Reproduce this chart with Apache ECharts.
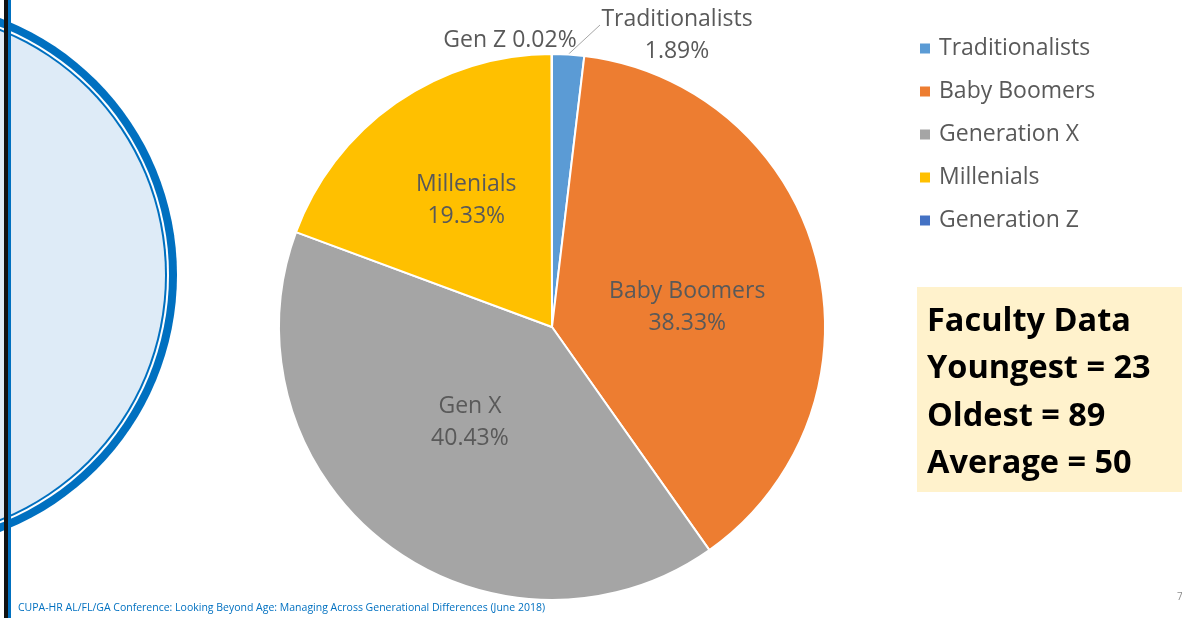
<!DOCTYPE html>
<html>
<head>
<meta charset="utf-8">
<script src="https://cdn.jsdelivr.net/npm/echarts@6/dist/echarts.min.js"></script>
<style>
  html, body { margin: 0; padding: 0; background: #ffffff; }
  #chart { width: 1182px; height: 618px; }
</style>
</head>
<body>
<div id="chart"></div>
<script>
// Generation mix of faculty (percent of headcount)
var categories = ['Traditionalists', 'Baby Boomers', 'Generation X', 'Millenials', 'Generation Z'];
var shortNames = ['Traditionalists', 'Baby Boomers', 'Gen X', 'Millenials', 'Gen Z'];
var shares = [1.89, 38.33, 40.43, 19.33, 0.02];
var colors = ['#5B9BD5', '#ED7D31', '#A5A5A5', '#FFC000', '#4472C4'];

// Side panel facts
var factLines = ['Faculty Data', 'Youngest = 23', 'Oldest = 89', 'Average = 50'];
var footerText = 'CUPA-HR AL/FL/GA Conference: Looking Beyond Age: Managing Across Generational Differences (June 2018)';
var pageNumber = '7';

// Pie geometry
var CX = 552, CY = 327, R = 273;
var FONT = '"Open Sans", "Noto Sans", sans-serif';
var TEXT = '#595959';

// Decorative arc on the left edge
var ARC_X = -98, ARC_Y = 275, ARC_R = 275;

var chart = echarts.init(document.getElementById('chart'), null, { renderer: 'canvas' });

var pieData = categories.map(function (name, i) {
  var item = { name: name, value: shares[i], itemStyle: { color: colors[i] } };
  if (i === 0 || i === 4) {
    item.label = { position: 'outside' };
    item.labelLine = { show: i === 0 };
  }
  return item;
});

// Fine placement of the data labels, relative to the pie
function placeLabel(p) {
  var i = p.dataIndex;
  if (i === 0) {
    return {
      x: CX + 125, y: CY - R - 19, align: 'center', verticalAlign: 'middle',
      labelLinePoints: [p.labelLinePoints ? p.labelLinePoints[0] : [CX + 15, CY - R + 2], [CX + 48, CY - R - 29]]
    };
  }
  if (i === 4) {
    return { x: CX - 42, y: CY - R - 14, align: 'center', verticalAlign: 'middle' };
  }
  if (i === 1) return { dy: 15 };
  if (i === 2) return { dx: 3, dy: -15 };
  if (i === 3) return { dx: -6, dy: -12 };
  return {};
}

var option = {
  backgroundColor: '#ffffff',
  animation: false,
  legend: {
    orient: 'vertical',
    left: 918,
    top: 37,
    padding: 0,
    icon: 'rect',
    itemWidth: 12,
    itemHeight: 12,
    itemGap: 20,
    data: categories,
    textStyle: { fontFamily: FONT, fontSize: 23, color: TEXT, lineHeight: 23, padding: [0, 0, 0, 3] }
  },
  graphic: [
    // Decorative slide frame on the left
    { type: 'circle', z: 1, shape: { cx: ARC_X, cy: ARC_Y, r: ARC_R }, style: { fill: '#0070C0' } },
    { type: 'circle', z: 2, shape: { cx: ARC_X, cy: ARC_Y, r: ARC_R - 8 }, style: { fill: '#ffffff' } },
    { type: 'circle', z: 3, shape: { cx: ARC_X, cy: ARC_Y, r: ARC_R - 10 }, style: { fill: '#0070C0' } },
    { type: 'circle', z: 4, shape: { cx: ARC_X, cy: ARC_Y, r: ARC_R - 12 }, style: { fill: '#DEEBF7' } },
    { type: 'rect', z: 5, shape: { x: 4, y: 0, width: 4, height: 618 }, style: { fill: '#111111' } },
    { type: 'rect', z: 5, shape: { x: 8, y: 0, width: 3, height: 618 }, style: { fill: '#0070C0' } },
    // Faculty facts box
    { type: 'rect', z: 5, shape: { x: 917, y: 287, width: 265, height: 205 }, style: { fill: '#FFF2CC' } },
    {
      type: 'text', z: 6, x: 927, y: 298,
      style: { text: factLines.join('\n'), fill: '#000000', font: 'bold 32.5px "Open Sans", sans-serif', lineHeight: 47.3 }
    },
    // Footer and page number
    {
      type: 'text', z: 6, x: 18, y: 608,
      style: { text: footerText, fill: '#0070C0', font: '10.5px "Open Sans", sans-serif', verticalAlign: 'middle' }
    },
    {
      type: 'text', z: 6, x: 1177, y: 597,
      style: { text: pageNumber, fill: '#8C8C8C', font: '10px "Open Sans", sans-serif', verticalAlign: 'middle' }
    }
  ],
  series: [{
    type: 'pie',
    center: [CX, CY],
    radius: [0, R],
    startAngle: 90,
    clockwise: true,
    avoidLabelOverlap: false,
    minAngle: 0,
    itemStyle: { borderColor: '#ffffff', borderWidth: 2 },
    label: {
      show: true,
      position: 'inside',
      color: TEXT,
      fontFamily: FONT,
      fontSize: 23,
      lineHeight: 32,
      formatter: function (p) {
        var v = shares[p.dataIndex].toFixed(2) + '%';
        if (p.dataIndex === 4) return shortNames[p.dataIndex] + ' ' + v;
        return shortNames[p.dataIndex] + '\n' + v;
      }
    },
    labelLine: { show: true, length: 15, length2: 10, lineStyle: { color: '#A6A6A6', width: 1 } },
    labelLayout: placeLabel,
    emphasis: { disabled: true },
    data: pieData
  }]
};

chart.setOption(option);
</script>
</body>
</html>
